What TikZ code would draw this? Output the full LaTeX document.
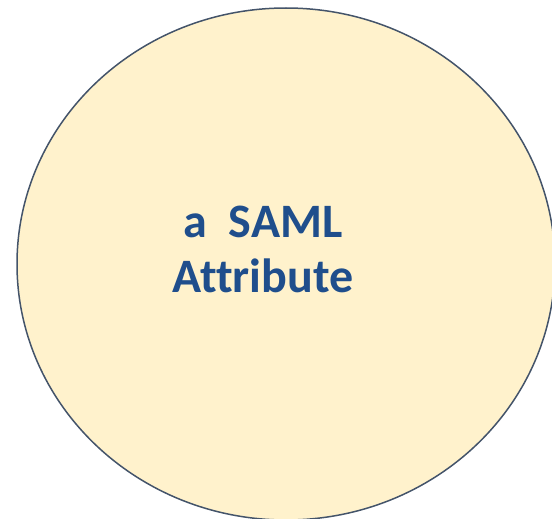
\documentclass[tikz,border=0pt]{standalone}
\usepackage{fontspec}
\setmainfont[Ligatures=NoCommon]{Carlito}
\definecolor{fillyel}{HTML}{FFF2CC}
\definecolor{edgecol}{HTML}{44546A}
\definecolor{txtblue}{HTML}{1F4E8C}
\tikzset{
  attrell/.style={draw=edgecol, line width=1.5pt, fill=fillyel},
  attrtext/.style={text=txtblue, font=\fontsize{48}{55}\selectfont\bfseries, align=center}
}
\begin{document}
\begin{tikzpicture}[x=1pt,y=-1pt]
\useasboundingbox (0,0) rectangle (552,519);
\begin{scope}
\clip (0,0) rectangle (552,519);
\draw[attrell] (286,264) ellipse [x radius=269, y radius=256];
\end{scope}
\node[attrtext] (label) at (263,249) {a~ SAML\\Attribute};
\end{tikzpicture}
\end{document}
